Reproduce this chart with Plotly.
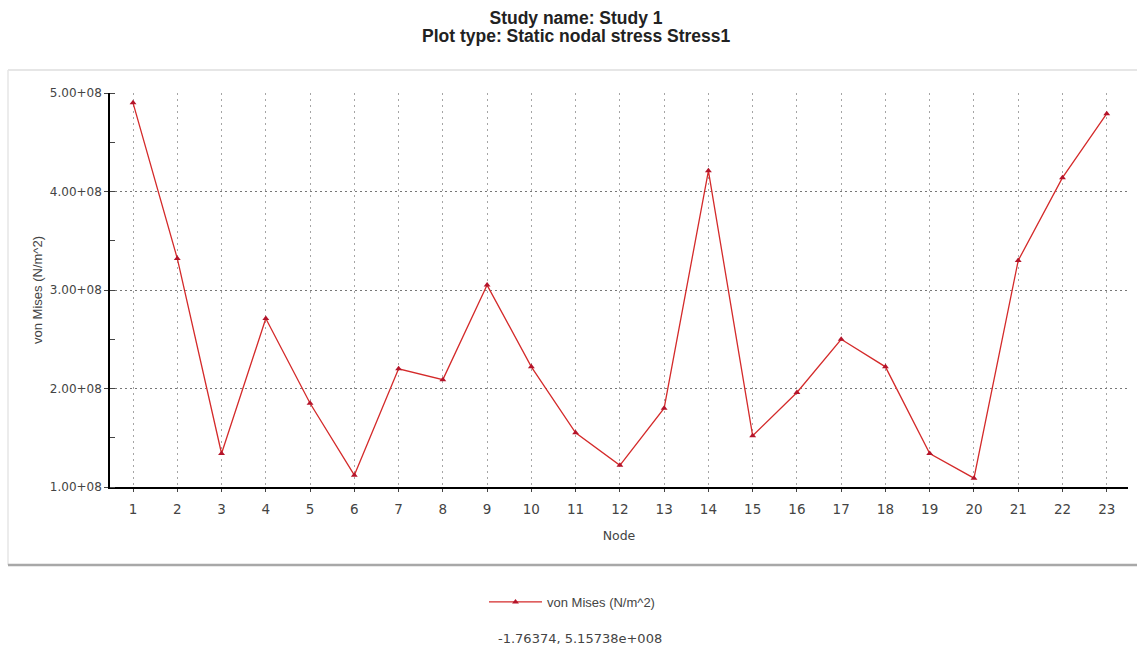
import plotly.graph_objects as go

nodes = list(range(1, 24))
von_mises = [4.90e8, 3.32e8, 1.34e8, 2.71e8, 1.85e8, 1.12e8, 2.20e8, 2.09e8, 3.05e8, 2.22e8,
             1.55e8, 1.22e8, 1.80e8, 4.21e8, 1.52e8, 1.96e8, 2.50e8, 2.22e8, 1.34e8, 1.09e8,
             3.30e8, 4.14e8, 4.79e8]
y_tickvals = [1e8, 2e8, 3e8, 4e8, 5e8]
y_ticktext = ["1.00+08", "2.00+08", "3.00+08", "4.00+08", "5.00+08"]
series_name = "von Mises (N/m^2)"
title_line1 = "Study name: Study 1"
title_line2 = "Plot type: Static nodal stress Stress1"
cursor_text = "-1.76374, 5.15738e+008"

W, H = 1137, 648
L, R, T, B = 110, 9, 93, 161
ph = H - T - B
pw = W - L - R

def px(x):
    return (x - L) / pw

def py(y):
    return (H - B - y) / ph

fig = go.Figure()
fig.add_trace(go.Scatter(
    x=nodes, y=von_mises, mode="lines+markers", name=series_name,
    line=dict(color="#d42a2a", width=1.3),
    marker=dict(symbol="triangle-up", size=6, color="#b5142a"),
))

f_title = "Liberation Sans, Arial, sans-serif"
f_tick = "DejaVu Sans, Verdana, sans-serif"

fig.update_layout(
    width=W, height=H,
    margin=dict(l=L, r=R, t=T, b=B),
    paper_bgcolor="white", plot_bgcolor="white",
    font=dict(family=f_tick, color="#333333"),
    title=dict(
        text="<b>" + title_line1 + "</b>",
        x=576 / W, xanchor="center", y=1 - 18 / H, yanchor="middle", yref="container",
        font=dict(size=17.5, color="#222222", family=f_title),
    ),
    showlegend=True,
    legend=dict(
        orientation="h", x=px(484), xanchor="left", y=py(602), yanchor="middle",
        font=dict(size=13, color="#444444", family=f_title), bgcolor="rgba(0,0,0,0)",
        itemwidth=53,
    ),
    xaxis=dict(
        range=[0.48, 23.48], tickmode="array", tickvals=nodes,
        showline=True, linecolor="black", linewidth=1.5,
        ticks="outside", ticklen=3, tickcolor="#444444",
        showgrid=True, gridcolor="#a5a5a5", gridwidth=1, griddash="2px,4px",
        zeroline=False,
        tickfont=dict(size=13.5, color="#444444"),
        ticklabelstandoff=6,
        title=dict(text="Node", font=dict(size=12.5, color="#444444"), standoff=15),
    ),
    yaxis=dict(
        range=[1e8, 5e8], tickmode="array", tickvals=y_tickvals, ticktext=y_ticktext,
        showline=True, linecolor="black", linewidth=1.5,
        ticks="outside", ticklen=4, tickcolor="#444444",
        minor=dict(dtick=0.5e8, ticks="inside", ticklen=5, tickcolor="#444444", showgrid=False),
        showgrid=True, gridcolor="#777777", gridwidth=1, griddash="2px,3px",
        zeroline=False,
        tickfont=dict(size=12, color="#444444"),
        title=dict(text=series_name, font=dict(size=13, color="#444444", family=f_title), standoff=4),
    ),
    shapes=[
        dict(type="line", xref="paper", yref="paper", x0=px(8), x1=px(W + 5), y0=py(70), y1=py(70),
             line=dict(color="#e6e6e6", width=2), layer="below"),
        dict(type="line", xref="paper", yref="paper", x0=px(8), x1=px(8), y0=py(70), y1=py(565),
             line=dict(color="#e6e6e6", width=1.5), layer="below"),
        dict(type="line", xref="paper", yref="paper", x0=px(8), x1=px(W + 5), y0=py(565), y1=py(565),
             line=dict(color="#a8a8a8", width=2.5), layer="below"),
    ],
    annotations=[
        dict(text="<b>" + title_line2 + "</b>", xref="paper", yref="paper", x=px(576), y=py(36),
             xanchor="center", yanchor="middle", showarrow=False,
             font=dict(size=17.5, color="#222222", family=f_title)),
        dict(text=cursor_text, xref="paper", yref="paper", x=px(580), y=py(638),
             xanchor="center", yanchor="middle", showarrow=False,
             font=dict(size=13, color="#444444")),
    ],
)

fig.write_html("out.html", config={"displayModeBar": False},
               post_script="document.body.style.margin='0';document.body.style.overflow='hidden';")
